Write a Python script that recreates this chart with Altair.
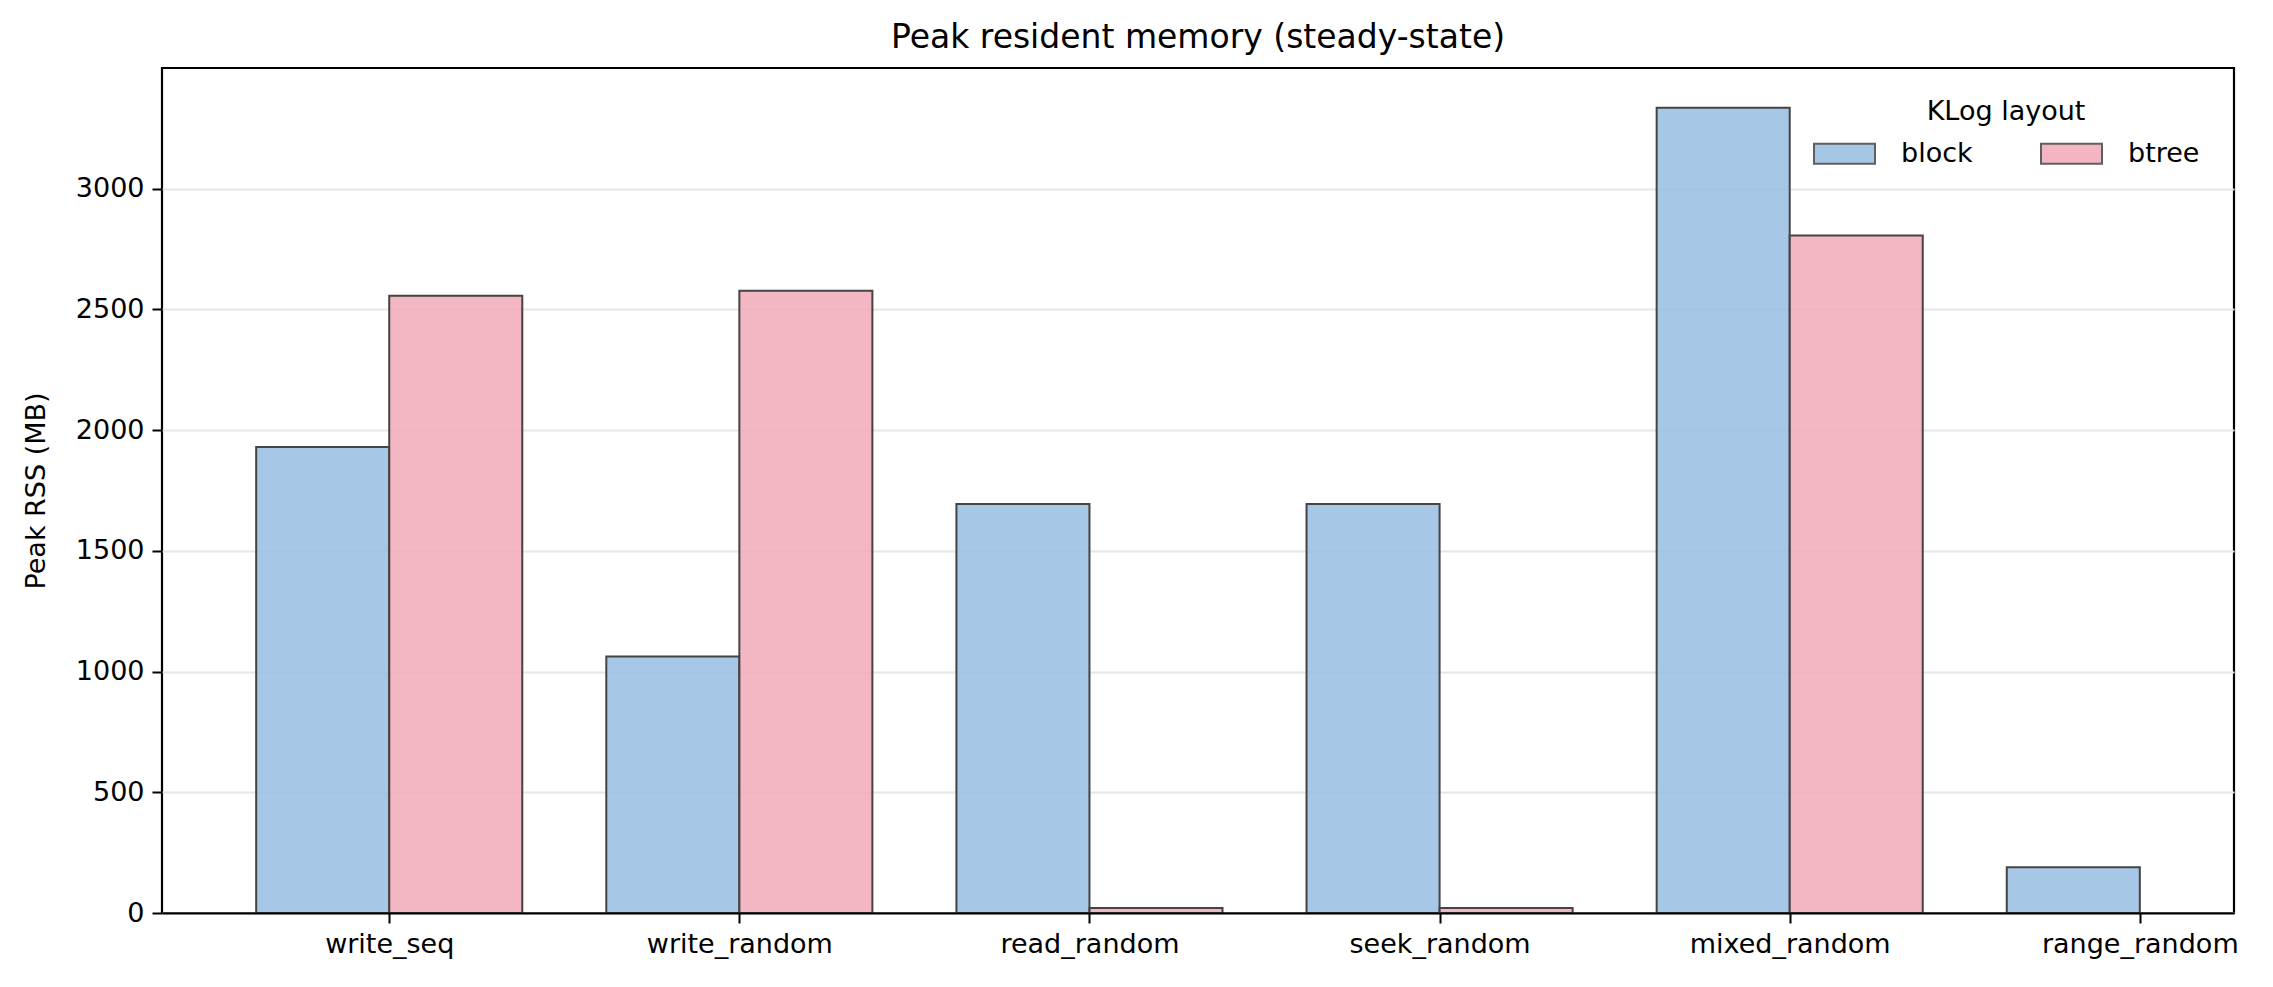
import json
import altair as alt
import pandas as pd

# ---- data ----
categories = ["write_seq", "write_random", "read_random", "seek_random", "mixed_random", "range_random"]
layouts = ["block", "btree"]
block_mb = [1930, 1062, 1694, 1694, 3335, 190]
btree_mb = [2557, 2577, 21, 21, 2806, None]   # no btree bar for range_random
y_ticks = [0, 500, 1000, 1500, 2000, 2500, 3000]

colors = ["#97BDE1", "#F1A9B8"]
FONT = "DejaVu Sans"

rows = []
for i, c in enumerate(categories):
    for lay, series in zip(layouts, [block_mb, btree_mb]):
        v = series[i]
        if v is None:
            continue
        rows.append({"category": c, "idx": i, "layout": lay, "value": v})
df = pd.DataFrame(rows)

label_expr = json.dumps(categories) + "[datum.value]"

chart = (
    alt.Chart(df)
    .transform_calculate(
        start="datum.layout == 'block' ? datum.idx - 0.38 : datum.idx",
        end="datum.layout == 'block' ? datum.idx : datum.idx + 0.38",
        base="0",
    )
    .mark_bar(stroke="#444444", strokeWidth=2, fillOpacity=0.85)
    .encode(
        x=alt.X(
            "start:Q",
            scale=alt.Scale(domain=[-0.649, 5.269], nice=False, zero=False),
            axis=alt.Axis(
                values=list(range(len(categories))),
                labelExpr=label_expr,
                labelLimit=0,
                title=None,
                grid=False,
                domain=True,
                domainColor="black",
                domainWidth=2.2,
                zindex=1,
                labelPadding=8,
            ),
        ),
        x2="end:Q",
        y=alt.Y(
            "value:Q",
            scale=alt.Scale(domain=[0, 3500], nice=False),
            axis=alt.Axis(
                values=y_ticks,
                format="d",
                title="Peak RSS (MB)",
                grid=True,
                gridColor="#e6e6e6",
                gridWidth=2,
                domain=False,
                labelPadding=8,
                titleX=-126,
                titleBaseline="middle",
                titleFontWeight="normal",
                titleFontSize=27,
            ),
        ),
        y2="base:Q",
        color=alt.Color(
            "layout:N",
            scale=alt.Scale(domain=layouts, range=colors),
            legend=alt.Legend(
                title="KLog layout",
                orient="none",
                legendX=1651,
                legendY=31,
                direction="horizontal",
                titleAnchor="middle",
                titleFontSize=27,
                titleFontWeight="normal",
                titleFont=FONT,
                titleColor="black",
                titlePadding=-4,
                labelFontSize=27,
                labelFont=FONT,
                labelColor="black",
                symbolType="M-1,-0.33L1,-0.33L1,0.33L-1,0.33Z",
                symbolSize=3721,
                symbolStrokeColor="#444444",
                symbolStrokeWidth=2,
                symbolOpacity=0.85,
                labelOffset=25,
                columnPadding=64,
            ),
        ),
    )
    .properties(
        width=2072,
        height=845,
        title=alt.TitleParams(
            "Peak resident memory (steady-state)",
            fontSize=33,
            fontWeight="normal",
            font=FONT,
            anchor="middle",
            color="black",
            offset=-13,
            baseline="alphabetic",
        ),
        autosize=alt.AutoSizeParams(type="none"),
        padding={"left": 154, "top": 60, "right": 28, "bottom": 60},
    )
    .configure_axis(
        labelFont=FONT,
        titleFont=FONT,
        labelFontSize=27,
        labelColor="black",
        titleColor="black",
        tickColor="black",
        tickSize=10,
        tickWidth=2,
    )
    .configure_view(stroke="black", strokeWidth=2.2)
)

chart.save("out.html", embed_options={"renderer": "svg", "actions": False})
